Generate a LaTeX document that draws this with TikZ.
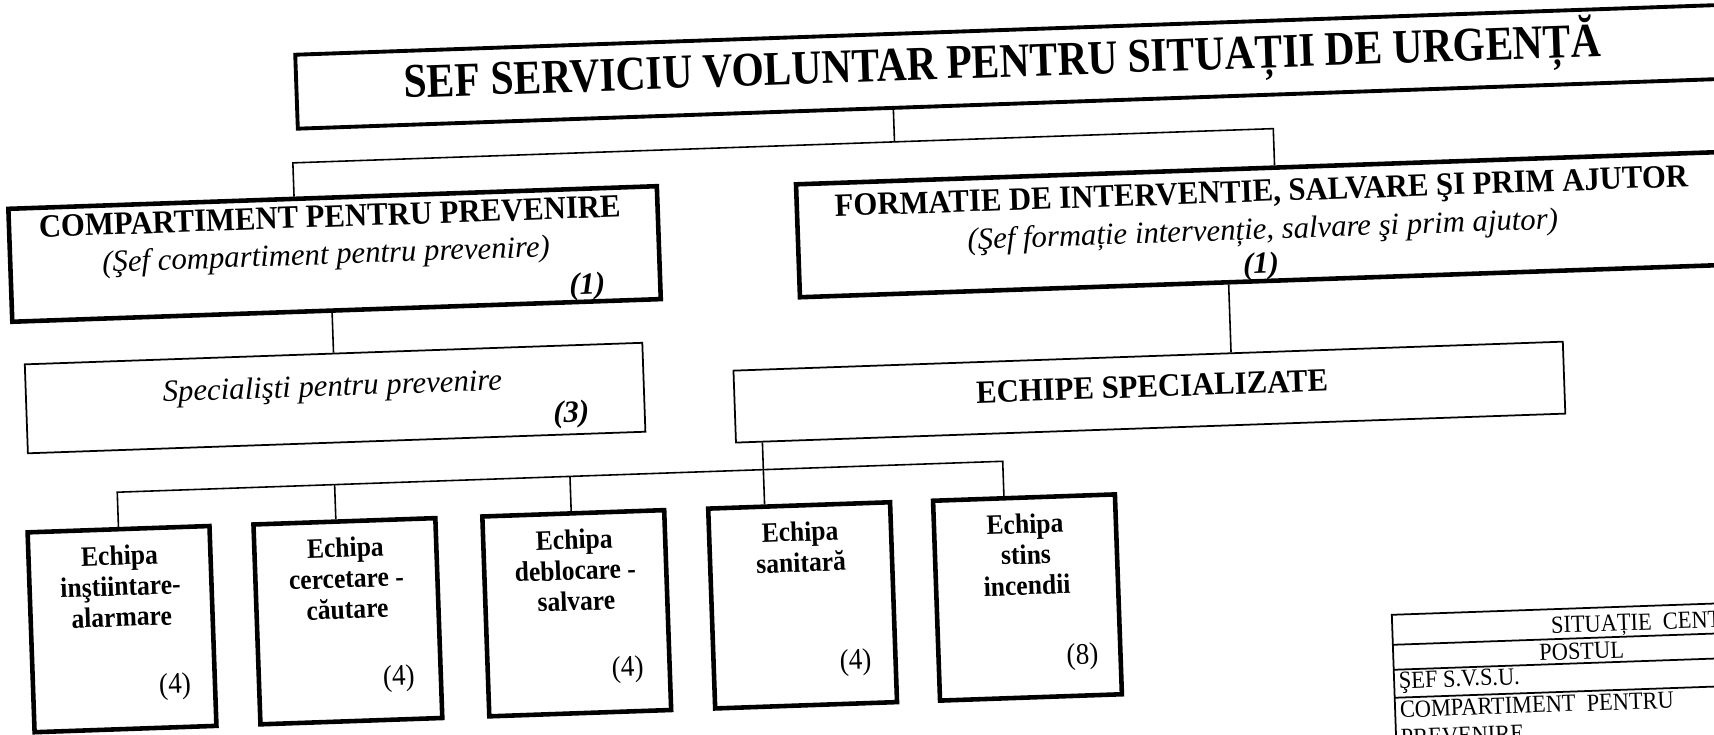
\documentclass[tikz,border=0pt]{standalone}
\usepackage{fontspec}
\setmainfont{Liberation Serif}
\newfontfamily\titlefont[FakeStretch=0.86]{Liberation Serif}
\newfontfamily\headfont[FakeStretch=0.945]{Liberation Serif}
\newfontfamily\teamfont[FakeStretch=0.91]{Liberation Serif}
\usetikzlibrary{calc}

\begin{document}
\begin{tikzpicture}[x=0.02cm, y=0.02cm,
    thickbox/.style={draw, rectangle, line width=2.6pt, inner sep=0pt},
    thinbox/.style={draw, rectangle, line width=1pt, inner sep=0pt},
    conn/.style={line width=0.9pt},
    headtext/.style={font=\headfont\bfseries\fontsize{18.5}{22}\selectfont, inner sep=0pt},
    subtext/.style={font=\itshape\fontsize{17.5}{21}\selectfont, inner sep=0pt},
    nrtext/.style={font=\bfseries\itshape\fontsize{17.5}{21}\selectfont, inner sep=0pt},
    teamtext/.style={font=\teamfont\bfseries\fontsize{16}{17.5}\selectfont, align=center, inner sep=0pt},
    teamnr/.style={font=\teamfont\fontsize{17}{19}\selectfont, inner sep=0pt},
    tabtext/.style={font=\teamfont\fontsize{14}{16}\selectfont, inner sep=0pt}]
    \useasboundingbox (0,0) rectangle (1714,734);
    \clip (0,0) rectangle (1714,734);
    \fill[white] (0,0) rectangle (1714,734);

    \begin{scope}[rotate around={2:(0,734)}, transform shape]
        % Head of the service
        \node[thickbox, line width=2.2pt, minimum width=29.94cm, minimum height=1.48cm] (sef) at (1041.5,632) {};
        \node[anchor=base, inner sep=0pt, font=\titlefont\bfseries\fontsize{27.5}{30}\selectfont] (seftitle) at (1000,622) {SEF SERVICIU VOLUNTAR PENTRU SITUAȚII DE URGENȚĂ};

        % Prevention department
        \node[thickbox, minimum width=12.98cm, minimum height=2.26cm] (comp) at (325.5,468.5) {};
        \node[headtext, anchor=base] (compname) at (322,495.5) {COMPARTIMENT PENTRU PREVENIRE};
        \node[subtext] (compsef) at (317,466) {(Şef compartiment pentru prevenire)};
        \node[nrtext] (compnr) at (577,427) {(1)};

        % Intervention formation
        \node[thickbox, minimum width=20.02cm, minimum height=2.26cm] (form) at (1289.5,465.5) {};
        \node[headtext, anchor=base] (formname) at (1254,488.5) {FORMATIE DE INTERVENTIE, SALVARE ŞI PRIM AJUTOR};
        \node[subtext] (formsef) at (1254,458.5) {(Şef formație intervenție, salvare şi prim ajutor)};
        \node[nrtext] (formnr) at (1251,424) {(1)};

        % Prevention specialists
        \node[thinbox, minimum width=12.36cm, minimum height=1.78cm] (spec) at (321,324.5) {};
        \node[subtext] (specname) at (318.6,334) {Specialişti pentru prevenire};
        \node[nrtext] (specnr) at (556.5,299.5) {(3)};

        % Specialised teams
        \node[thinbox, minimum width=16.6cm, minimum height=1.44cm] (echipe) at (1135,302) {};
        \node[headtext, anchor=base] (echipename) at (1138,297) {ECHIPE SPECIALIZATE};

        % Team boxes
        \node[thickbox, minimum width=3.64cm, minimum height=4cm] (t1) at (100,101) {};
        \node[thickbox, minimum width=3.64cm, minimum height=4cm] (t2) at (326,101) {};
        \node[thickbox, minimum width=3.64cm, minimum height=4cm] (t3) at (555,101) {};
        \node[thickbox, minimum width=3.64cm, minimum height=4cm] (t4) at (781,101) {};
        \node[thickbox, minimum width=3.64cm, minimum height=4cm] (t5) at (1006,101) {};

        \node[teamtext, anchor=north] (t1name) at (100,185) {Echipa\\inştiintare-\\alarmare};
        \node[teamtext, anchor=north] (t2name) at (326,185) {Echipa\\cercetare -\\căutare};
        \node[teamtext, anchor=north] (t3name) at (555,185) {Echipa\\deblocare -\\salvare};
        \node[teamtext, anchor=north] (t4name) at (781,185) {Echipa\\sanitară};
        \node[teamtext, anchor=north] (t5name) at (1006,185) {Echipa\\stins\\incendii};

        \node[teamnr] (t1nr) at (151,42) {(4)};
        \node[teamnr] (t2nr) at (375,42) {(4)};
        \node[teamnr] (t3nr) at (604,43) {(4)};
        \node[teamnr] (t4nr) at (832,42) {(4)};
        \node[teamnr] (t5nr) at (1059,40) {(8)};

        % Connectors
        \coordinate (b1l) at (287,561);
        \coordinate (b1m) at (889,561);
        \coordinate (b1r) at (1268,561);
        \coordinate (fe) at (1218,380);
        \coordinate (b2l) at (100,238);
        \coordinate (b22) at (317.5,238);
        \coordinate (b23) at (553,238);
        \coordinate (b24) at (746.5,238);
        \coordinate (b2r) at (986,238);

        \draw[conn] ($(sef.south west)!(b1m)!(sef.south east)$) -- (b1m);
        \draw[conn] ($(comp.north west)!(b1l)!(comp.north east)$) -- (b1l) -- (b1r) -- ($(form.north west)!(b1r)!(form.north east)$);
        \draw[conn] ($(comp.south west)!(spec.north)!(comp.south east)$) -- (spec.north);
        \draw[conn] ($(form.south west)!(fe)!(form.south east)$) -- ($(echipe.north west)!(fe)!(echipe.north east)$);
        \draw[conn] (t1.north) -- (b2l) -- (b2r) -- ($(t5.north west)!(b2r)!(t5.north east)$);
        \draw[conn] (b22) -- ($(t2.north west)!(b22)!(t2.north east)$);
        \draw[conn] (b23) -- ($(t3.north west)!(b23)!(t3.north east)$);
        \draw[conn] ($(echipe.south west)!(b24)!(echipe.south east)$) -- ($(t4.north west)!(b24)!(t4.north east)$);

        % Summary table, cut by the page edge
        \draw[line width=1pt] (1900,71) -- (1369.5,71) -- (1369.5,-120);
        \draw[line width=1pt] (1369.5,41) -- (1900,41);
        \draw[line width=1pt] (1369.5,16) -- (1900,16);
        \draw[line width=1pt] (1369.5,-12) -- (1900,-12);
        \node[tabtext, anchor=base west] (tabtitle) at (1528,47) {SITUAȚIE\ \ CENT};
        \node[tabtext, anchor=base] (tabpost) at (1558,20) {POSTUL};
        \node[tabtext, anchor=base west] (tabsef) at (1374,-3) {ŞEF S.V.S.U.};
        \node[tabtext, anchor=base west] (tabcomp) at (1374,-32) {COMPARTIMENT\ \ PENTRU};
        \node[tabtext, anchor=base west] (tabprev) at (1374,-60) {PREVENIRE};
    \end{scope}
\end{tikzpicture}
\end{document}
